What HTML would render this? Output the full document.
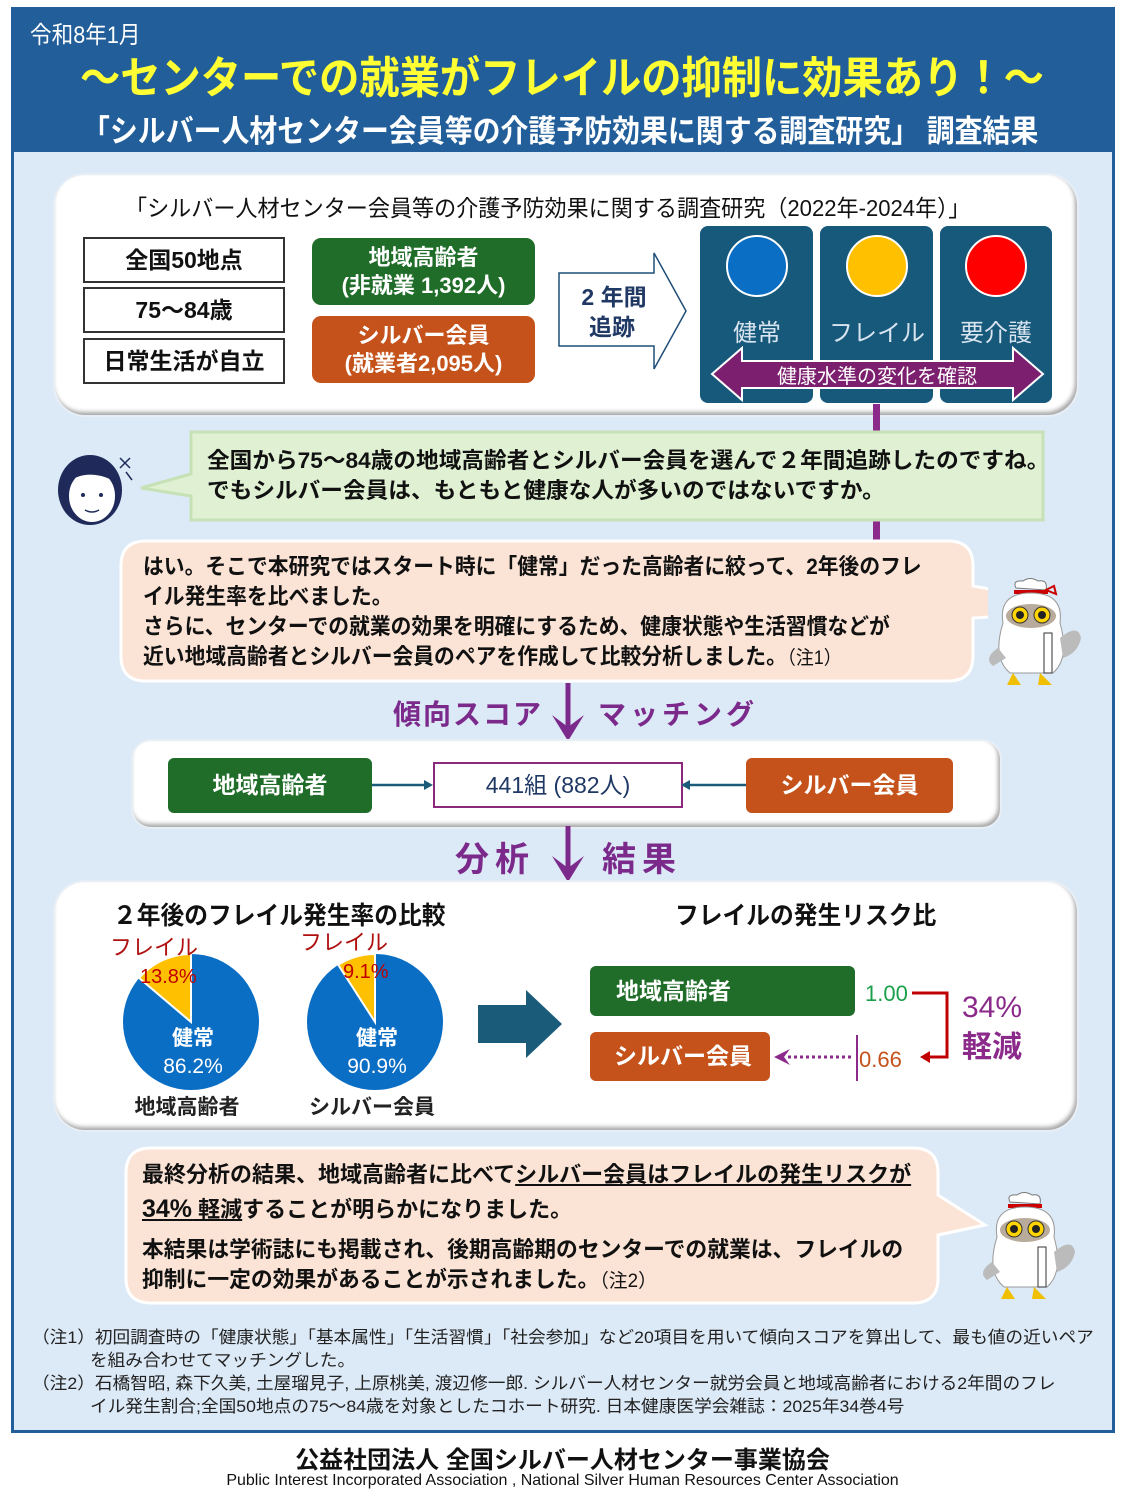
<!DOCTYPE html>
<html><head><meta charset="utf-8">
<style>
*{margin:0;padding:0;box-sizing:border-box}
body{width:1125px;height:1500px;background:#fff;position:relative;overflow:hidden;font-family:"Liberation Sans","Noto Sans CJK JP",sans-serif;color:#111}
.a{position:absolute;white-space:nowrap}
.sx{transform-origin:left top;display:inline-block}
.b{font-weight:bold}
.card{position:absolute;background:#fff;border-radius:30px;box-shadow:-2px -3px 4px rgba(0,0,0,.35) inset, 0 0 0 2px #e8eef5}
.box{position:absolute;display:flex;align-items:center;justify-content:center;text-align:center;line-height:1.25}
</style></head><body>
<div class="a" style="left:11px;top:7px;width:1104px;height:146px;background:#215e9a"></div>
<div class="a" style="left:11px;top:152px;width:1104px;height:1281px;background:#dce9f6;border:3px solid #215e9a;border-top:none"></div>
<div class="a" style="left:30px;top:15px;font-size:24px;color:#fff"><span class="sx" style="transform:scaleX(.9)">令和8年1月</span></div>
<div class="a b" style="left:80px;top:42px;font-size:44px;color:#ffff33"><span class="sx" style="transform:scaleX(.915)">～センターでの就業がフレイルの抑制に効果あり！～</span></div>
<div class="a b" style="left:82px;top:106px;font-size:31px;color:#fff"><span class="sx" style="transform:scaleX(.9)">「シルバー人材センター会員等の介護予防効果に関する調査研究」 調査結果</span></div>

<div class="card" style="left:55px;top:175px;width:1022px;height:240px"></div>
<div class="a" style="left:125px;top:189px;font-size:23px"><span class="sx" style="transform:scaleX(.96)">「シルバー人材センター会員等の介護予防効果に関する調査研究（2022年-2024年）」</span></div>
<div class="box b" style="left:83px;top:237px;width:202px;height:46px;border:2px solid #333;background:#fff;font-size:23px">全国50地点</div>
<div class="box b" style="left:83px;top:287px;width:202px;height:46px;border:2px solid #333;background:#fff;font-size:23px">75～84歳</div>
<div class="box b" style="left:83px;top:338px;width:202px;height:46px;border:2px solid #333;background:#fff;font-size:23px">日常生活が自立</div>
<div class="box b" style="left:312px;top:238px;width:223px;height:67px;background:#1f6d28;border-radius:9px;color:#fff;font-size:22px">地域高齢者<br>(非就業 1,392人)</div>
<div class="box b" style="left:312px;top:316px;width:223px;height:67px;background:#c4521a;border-radius:9px;color:#fff;font-size:22px">シルバー会員<br>(就業者2,095人)</div>
<svg class="a" style="left:556px;top:250px" width="134" height="122"><polygon points="3,23 98,23 98,3 130,61 98,119 98,96 3,96" fill="#fff" stroke="#1f4e79" stroke-width="1.5"/><text x="58" y="55" font-size="23" font-weight="bold" text-anchor="middle" fill="#1f3864" font-family="Liberation Sans,Noto Sans CJK JP,sans-serif">2 年間</text><text x="56" y="85" font-size="23" font-weight="bold" text-anchor="middle" fill="#1f3864" font-family="Liberation Sans,Noto Sans CJK JP,sans-serif">追跡</text></svg>
<svg class="a" style="left:700px;top:226px" width="355" height="180">
<rect x="0" y="0" width="113" height="177" rx="8" fill="#17597a"/>
<rect x="120" y="0" width="113" height="177" rx="8" fill="#17597a"/>
<rect x="240" y="0" width="112" height="177" rx="8" fill="#17597a"/>
<circle cx="57" cy="40" r="30" fill="#0a6ec4" stroke="#fff" stroke-width="2"/>
<circle cx="177" cy="40" r="30" fill="#ffc000" stroke="#fff" stroke-width="2"/>
<circle cx="296" cy="40" r="30" fill="#ff0000" stroke="#fff" stroke-width="2"/>
<g font-family="Liberation Sans,Noto Sans CJK JP,sans-serif" font-size="24" fill="#d8e4f0" text-anchor="middle">
<text x="57" y="115">健常</text><text x="177" y="115">フレイル</text><text x="296" y="115">要介護</text></g>
<polygon points="12,148 42,122 42,135 313,135 313,122 343,148 313,174 313,162 42,162 42,174" fill="#7b1f6e" stroke="#fff" stroke-width="2"/>
<text x="177" y="157" font-family="Liberation Sans,Noto Sans CJK JP,sans-serif" font-size="20" fill="#fff" text-anchor="middle">健康水準の変化を確認</text>
</svg>
<div class="a" style="left:873px;top:404px;width:7px;height:28px;background:#8b2a8b"></div>
<div class="a" style="left:873px;top:520px;width:7px;height:20px;background:#8b2a8b"></div>

<svg class="a" style="left:52px;top:448px" width="85" height="80">
<ellipse cx="38" cy="42" rx="32" ry="35" fill="#1f2a5a"/>
<ellipse cx="40" cy="48" rx="24" ry="27" fill="#fff" stroke="#1f2a5a" stroke-width="2"/>
<path d="M14,35 Q35,20 60,32 L62,20 Q38,2 14,20Z" fill="#1f2a5a"/>
<circle cx="31" cy="47" r="2" fill="#1f2a5a"/><circle cx="49" cy="47" r="2" fill="#1f2a5a"/>
<path d="M33,62 Q40,66 47,62" stroke="#1f2a5a" stroke-width="1.5" fill="none"/>
<path d="M68,10 L78,20 M78,10 L68,20 M74,24 L80,32" stroke="#1f2a5a" stroke-width="1.5"/>
</svg>
<svg class="a" style="left:135px;top:430px" width="912" height="94"><path d="M56,2 H908 V90 H56 V66 L6,58 L56,44 Z" fill="#e0f1d3" stroke="#c7e1b6" stroke-width="3"/></svg>
<div class="a b" style="left:207px;top:446px;font-size:22px;line-height:30px"><span class="sx" style="transform:scaleX(1.03)">全国から75～84歳の地域高齢者とシルバー会員を選んで２年間追跡したのですね。<br>でもシルバー会員は、もともと健康な人が多いのではないですか。</span></div>

<svg class="a" style="left:118px;top:538px" width="870" height="150"><path d="M28,3 H830 Q855,3 855,28 V48 L985,72 L855,80 V118 Q855,143 830,143 H28 Q3,143 3,118 V28 Q3,3 28,3Z" fill="#fbe4d6" stroke="#fff" stroke-width="3"/></svg>
<div class="a b" style="left:143px;top:552px;font-size:22px;line-height:30px"><span class="sx" style="transform:scaleX(.945)">はい。そこで本研究ではスタート時に「健常」だった高齢者に絞って、2年後のフレ<br>イル発生率を比べました。<br>さらに、センターでの就業の効果を明確にするため、健康状態や生活習慣などが<br>近い地域高齢者とシルバー会員のペアを作成して比較分析しました。<span style="font-weight:normal;font-size:19px">（注1）</span></span></div>

<svg class="a" style="left:978px;top:578px" width="110" height="115">
<path d="M38,10 Q34,2 45,3 Q52,-2 60,3 Q70,1 68,12 Z" fill="#fff" stroke="#777"/>
<path d="M36,14 H70" stroke="#c00" stroke-width="4"/><path d="M68,12 l8,-4 l2,8 z" fill="none" stroke="#c00" stroke-width="2"/>
<path d="M25,45 Q20,15 53,15 Q86,15 82,45 Q92,80 75,95 H32 Q14,80 25,45Z" fill="#fff" stroke="#999"/>
<path d="M20,70 Q5,80 15,88 L28,80" fill="#bbb"/><path d="M82,60 Q100,45 103,60 Q100,75 85,80" fill="#bbb"/>
<ellipse cx="53" cy="38" rx="25" ry="12" fill="#b8ab9b"/>
<circle cx="42" cy="37" r="8" fill="#ffd400" stroke="#333"/><circle cx="64" cy="37" r="8" fill="#ffd400" stroke="#333"/>
<circle cx="42" cy="37" r="4" fill="#222"/><circle cx="64" cy="37" r="4" fill="#222"/>
<rect x="66" y="55" width="8" height="40" fill="#fff" stroke="#333"/>
<path d="M35,95 l-6,12 h14 z M62,95 l-2,12 h14 z" fill="#f0c000"/>
</svg>

<div class="a b" style="left:393px;top:693px;font-size:28px;color:#7b2a8b;letter-spacing:2px">傾向スコア</div>
<div class="a b" style="left:598px;top:693px;font-size:28px;color:#7b2a8b;letter-spacing:4px">マッチング</div>
<svg class="a" style="left:548px;top:683px" width="40" height="60"><path d="M20,0 V52" stroke="#7b2a8b" stroke-width="5"/><polygon points="4,32 20,58 36,32 20,44" fill="#7b2a8b"/></svg>
<div class="card" style="left:133px;top:741px;width:867px;height:86px;border-radius:18px"></div>
<div class="box b" style="left:168px;top:758px;width:204px;height:55px;background:#1f6d28;border-radius:6px;color:#fff;font-size:23px">地域高齢者</div>
<div class="box" style="left:433px;top:762px;width:250px;height:46px;border:2px solid #8b2a7a;background:#fff;font-size:23px;color:#1f3864">441組 (882人)</div>
<div class="box b" style="left:746px;top:758px;width:207px;height:55px;background:#c4521a;border-radius:6px;color:#fff;font-size:23px">シルバー会員</div>
<svg class="a" style="left:372px;top:775px" width="380" height="20"><path d="M0,10 H56" stroke="#1a5b7a" stroke-width="2.5"/><polygon points="52,5 61,10 52,15" fill="#1a5b7a"/><path d="M313,10 H374" stroke="#1a5b7a" stroke-width="2.5"/><polygon points="318,5 309,10 318,15" fill="#1a5b7a"/></svg>
<div class="a b" style="left:455px;top:832px;font-size:34px;color:#7b2a8b;letter-spacing:6px">分析</div>
<div class="a b" style="left:602px;top:832px;font-size:34px;color:#7b2a8b;letter-spacing:6px">結果</div>
<svg class="a" style="left:548px;top:826px" width="40" height="58"><path d="M20,0 V50" stroke="#7b2a8b" stroke-width="5"/><polygon points="4,30 20,56 36,30 20,42" fill="#7b2a8b"/></svg>

<div class="card" style="left:55px;top:882px;width:1022px;height:248px"></div>
<div class="a b" style="left:113px;top:896px;font-size:25px"><span class="sx" style="transform:scaleX(.95)">２年後のフレイル発生率の比較</span></div>
<div class="a b" style="left:675px;top:896px;font-size:25px"><span class="sx" style="transform:scaleX(.95)">フレイルの発生リスク比</span></div>
<svg class="a" style="left:100px;top:925px" width="360" height="200" font-family="Liberation Sans,Noto Sans CJK JP,sans-serif">
<circle cx="91" cy="97" r="68" fill="#0a6ec4"/>
<path d="M91,97 L91,29 A68,68 0 0 0 39.1,53 Z" fill="#ffc000" stroke="#fff" stroke-width="2"/>
<circle cx="275" cy="97" r="68" fill="#0a6ec4"/>
<path d="M275,97 L275,29 A68,68 0 0 0 238.2,39.8 Z" fill="#ffc000" stroke="#fff" stroke-width="2"/>
<text x="10" y="30" font-size="22" fill="#b01010">フレイル</text>
<text x="40" y="58" font-size="20" fill="#c00000">13.8%</text>
<text x="200" y="25" font-size="22" fill="#b01010">フレイル</text>
<text x="243" y="53" font-size="20" fill="#c00000">9.1%</text>
<text x="93" y="120" font-size="21" fill="#fff" text-anchor="middle" font-weight="bold">健常</text>
<text x="93" y="148" font-size="21" fill="#fff" text-anchor="middle">86.2%</text>
<text x="277" y="120" font-size="21" fill="#fff" text-anchor="middle" font-weight="bold">健常</text>
<text x="277" y="148" font-size="21" fill="#fff" text-anchor="middle">90.9%</text>
<text x="87" y="189" font-size="21" fill="#222" text-anchor="middle" font-weight="bold">地域高齢者</text>
<text x="272" y="189" font-size="21" fill="#222" text-anchor="middle" font-weight="bold">シルバー会員</text>
</svg>
<svg class="a" style="left:476px;top:988px" width="90" height="72"><polygon points="2,17 50,17 50,2 86,36 50,70 50,55 2,55" fill="#1a5b7a"/></svg>
<div class="box b" style="left:590px;top:966px;width:265px;height:50px;background:#1f6d28;border-radius:6px;color:#fff;font-size:23px;justify-content:flex-start;padding-left:26px">地域高齢者</div>
<div class="box b" style="left:590px;top:1032px;width:180px;height:49px;background:#c4521a;border-radius:6px;color:#fff;font-size:23px;justify-content:flex-start;padding-left:24px">シルバー会員</div>
<svg class="a" style="left:770px;top:975px" width="270" height="115" font-family="Liberation Sans,Noto Sans CJK JP,sans-serif">
<text x="95" y="26" font-size="22" fill="#1aa04a">1.00</text>
<path d="M142,18 H177 V82 H158" stroke="#c00000" stroke-width="3" fill="none"/>
<polygon points="160,76 150,82 160,88" fill="#c00000"/>
<path d="M87,60 V106" stroke="#8b2a8b" stroke-width="2"/>
<text x="89" y="92" font-size="22" fill="#c4521a">0.66</text>
<path d="M18,82 H84" stroke="#8b2a8b" stroke-width="3" stroke-dasharray="3,3"/>
<polygon points="20,74 4,82 20,90 14,82" fill="#8b2a8b"/>
<text x="192" y="42" font-size="30" fill="#8b2a8b">34%</text>
<text x="192" y="82" font-size="30" fill="#8b2a8b" font-weight="bold">軽減</text>
</svg>

<svg class="a" style="left:123px;top:1145px" width="870" height="165"><path d="M28,3 H790 Q815,3 815,28 V50 L862,80 L815,90 V133 Q815,158 790,158 H28 Q3,158 3,133 V28 Q3,3 28,3Z" fill="#fbe4d6" stroke="#fff" stroke-width="3"/></svg>
<div class="a b" style="left:142px;top:1158px;font-size:22px;line-height:34px"><span class="sx" style="transform:scaleX(1.0)">最終分析の結果、地域高齢者に比べて<u>シルバー会員はフレイルの発生リスクが</u><br><u><span style="font-size:25px">34%</span> 軽減</u>することが明らかになりました。</span></div>
<div class="a b" style="left:142px;top:1235px;font-size:22px;line-height:30px"><span class="sx" style="transform:scaleX(.99)">本結果は学術誌にも掲載され、後期高齢期のセンターでの就業は、フレイルの<br>抑制に一定の効果があることが示されました。<span style="font-weight:normal;font-size:19px">（注2）</span></span></div>
<svg class="a" style="left:972px;top:1192px" width="110" height="115">
<path d="M38,10 Q34,2 45,3 Q52,-2 60,3 Q70,1 68,12 Z" fill="#fff" stroke="#777"/>
<path d="M36,14 H70" stroke="#c00" stroke-width="4"/>
<path d="M25,45 Q20,15 53,15 Q86,15 82,45 Q92,80 75,95 H32 Q14,80 25,45Z" fill="#fff" stroke="#999"/>
<path d="M20,70 Q5,80 15,88 L28,80" fill="#bbb"/><path d="M82,60 Q100,45 103,60 Q100,75 85,80" fill="#bbb"/>
<ellipse cx="53" cy="38" rx="25" ry="12" fill="#b8ab9b"/>
<circle cx="42" cy="37" r="8" fill="#ffd400" stroke="#333"/><circle cx="64" cy="37" r="8" fill="#ffd400" stroke="#333"/>
<circle cx="42" cy="37" r="4" fill="#222"/><circle cx="64" cy="37" r="4" fill="#222"/>
<rect x="66" y="55" width="8" height="40" fill="#fff" stroke="#333"/>
<path d="M35,95 l-6,12 h14 z M62,95 l-2,12 h14 z" fill="#f0c000"/>
</svg>

<div class="a" style="left:32px;top:1326px;font-size:17px;line-height:23px;color:#222"><span class="sx" style="transform:scaleX(1.04)">（注1）初回調査時の「健康状態」「基本属性」「生活習慣」「社会参加」など20項目を用いて傾向スコアを算出して、最も値の近いペア<br>　　　 を組み合わせてマッチングした。<br>（注2）石橋智昭, 森下久美, 土屋瑠見子, 上原桃美, 渡辺修一郎. シルバー人材センター就労会員と地域高齢者における2年間のフレ<br>　　　 イル発生割合;全国50地点の75～84歳を対象としたコホート研究. 日本健康医学会雑誌：2025年34巻4号</span></div>

<div class="a b" style="left:0;width:1125px;text-align:center;top:1440px;font-size:24px">公益社団法人 全国シルバー人材センター事業協会</div>
<div class="a" style="left:0;width:1125px;text-align:center;top:1472px;font-size:16px">Public Interest Incorporated Association , National Silver Human Resources Center Association</div>
</body></html>
